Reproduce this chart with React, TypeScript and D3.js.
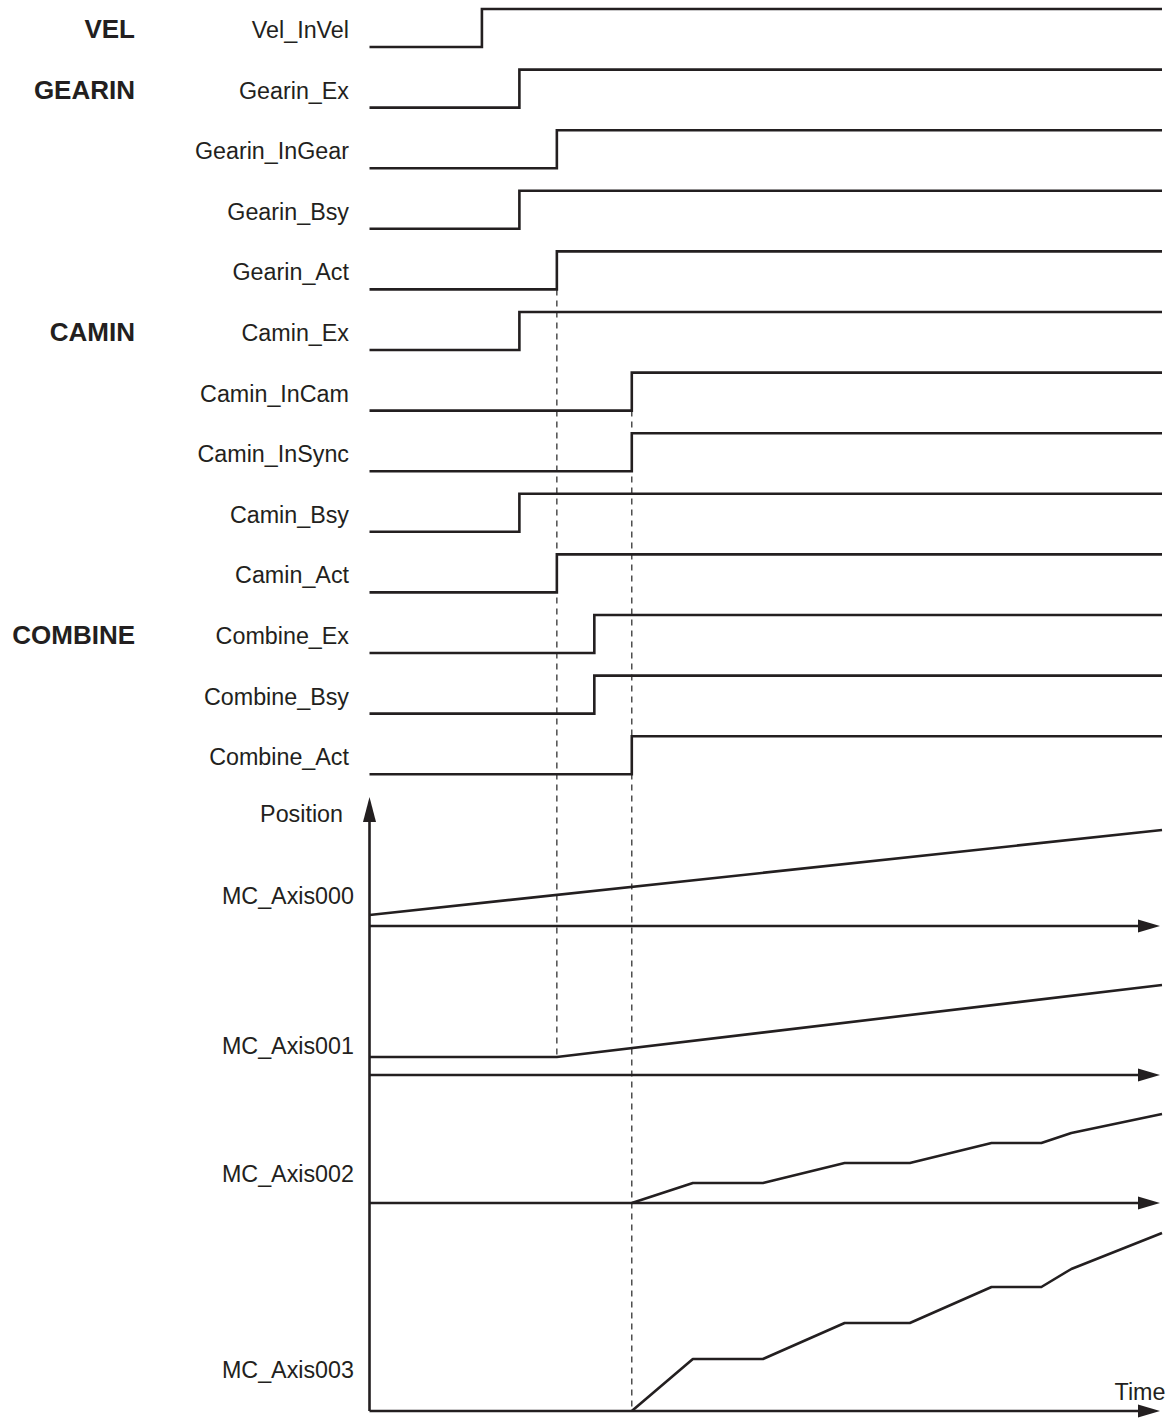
import React from "react";
import * as d3 from "d3";

// ---- data ----
const groupLabels = [
  { name: "VEL", row: 0 },
  { name: "GEARIN", row: 1 },
  { name: "CAMIN", row: 5 },
  { name: "COMBINE", row: 10 },
];
const signalNames = [
  "Vel_InVel", "Gearin_Ex", "Gearin_InGear", "Gearin_Bsy", "Gearin_Act",
  "Camin_Ex", "Camin_InCam", "Camin_InSync", "Camin_Bsy", "Camin_Act",
  "Combine_Ex", "Combine_Bsy", "Combine_Act",
];
// time at which each signal goes high
const signalRiseTimes = [3, 4, 5, 4, 5, 4, 7, 7, 4, 5, 6, 6, 7];

const axisNames = ["MC_Axis000", "MC_Axis001", "MC_Axis002", "MC_Axis003"];
const axis000 = [ { t: 0, v: 11 }, { t: 21.15, v: 96 } ];
const axis001 = [ { t: 0, v: 18 }, { t: 5, v: 18 }, { t: 21.15, v: 90 } ];
const profileTimes = [7, 8.63, 10.5, 12.68, 14.42, 16.6, 17.93, 18.73, 21.15];
const axis002Values = [0, 20, 20, 40, 40, 60, 60, 70, 89];
const axis003Values = [0, 52, 52, 88, 88, 124, 124, 142, 178];
const dashTimes = [5, 7];

const T_END = 21.15;

export default function App() {
  const W = 1176, H = 1419;
  const x = d3.scaleLinear().domain([0, T_END]).range([369.5, 1162]);
  const rowTop = d3.scaleLinear().domain([0, 1]).range([9, 69.6]);
  const AMP = 38;
  const font = "'Liberation Sans', Arial, Helvetica, sans-serif";

  // position axes
  const baselines = [926, 1075, 1203, 1411];
  const labelY = [904, 1054, 1182, 1378];
  const posY = baselines.map((b) => d3.scaleLinear().domain([0, 1]).range([b, b - 1]));
  const series = [
    axis000,
    axis001,
    profileTimes.map((t, i) => ({ t, v: axis002Values[i] })),
    profileTimes.map((t, i) => ({ t, v: axis003Values[i] })),
  ];

  const stepLine = (rise: number, i: number) => {
    const hi = rowTop(i), lo = hi + AMP;
    return d3.line<[number, number]>()([
      [x(0), lo], [x(rise), lo], [x(rise), hi], [x(T_END), hi],
    ]);
  };

  const stroke = "#231f20";
  const sw = 2.6;
  const arrowEnd = 1160;

  return (
    <svg width={W} height={H} style={{ display: "block", position: "absolute", left: 0, top: 0 }}>
      <rect width={W} height={H} fill="#fff" />
      {/* dashed guide lines */}
      <line x1={x(dashTimes[0])} x2={x(dashTimes[0])} y1={rowTop(4) + AMP} y2={posY[1](18)}
        stroke="#333" strokeWidth={1.3} strokeDasharray="6,5" />
      <line x1={x(dashTimes[1])} x2={x(dashTimes[1])} y1={rowTop(6) + AMP} y2={baselines[3]}
        stroke="#333" strokeWidth={1.3} strokeDasharray="6,5" />

      {/* group labels */}
      {groupLabels.map((g) => (
        <text key={g.name} x={135} y={rowTop(g.row) + AMP - 9} textAnchor="end"
          fontFamily={font} fontWeight="bold" fontSize={26} fill={stroke}>{g.name}</text>
      ))}
      {/* signal labels and steps */}
      {signalNames.map((n, i) => (
        <g key={n}>
          <text x={349} y={rowTop(i) + AMP - 9} textAnchor="end" fontFamily={font}
            fontSize={23.3} fill={stroke}>{n}</text>
          <path d={stepLine(signalRiseTimes[i], i) || ""} fill="none" stroke={stroke}
            strokeWidth={sw} strokeLinejoin="miter" />
        </g>
      ))}

      {/* position axis */}
      <line x1={x(0)} x2={x(0)} y1={815} y2={baselines[3]} stroke={stroke} strokeWidth={sw} />
      <path d={`M${x(0)},797 L${x(0) - 6.5},822 L${x(0) + 6.5},822 Z`} fill={stroke} />
      <text x={343} y={822} textAnchor="end" fontFamily={font} fontSize={23.3} fill={stroke}>Position</text>

      {axisNames.map((n, i) => {
        const b = baselines[i];
        const line = d3.line<{ t: number; v: number }>().x((d) => x(d.t)).y((d) => posY[i](d.v));
        return (
          <g key={n}>
            <text x={354} y={labelY[i]} textAnchor="end" fontFamily={font} fontSize={23.3} fill={stroke}>{n}</text>
            <line x1={x(0)} x2={arrowEnd - 18} y1={b} y2={b} stroke={stroke} strokeWidth={sw} />
            <path d={`M${arrowEnd},${b} L${arrowEnd - 22},${b - 6.5} L${arrowEnd - 22},${b + 6.5} Z`} fill={stroke} />
            <path d={line(series[i]) || ""} fill="none" stroke={stroke} strokeWidth={sw} strokeLinejoin="round" />
          </g>
        );
      })}
      <text x={1140} y={1400} textAnchor="middle" fontFamily={font} fontSize={23.3} fill={stroke}>Time</text>
    </svg>
  );
}
